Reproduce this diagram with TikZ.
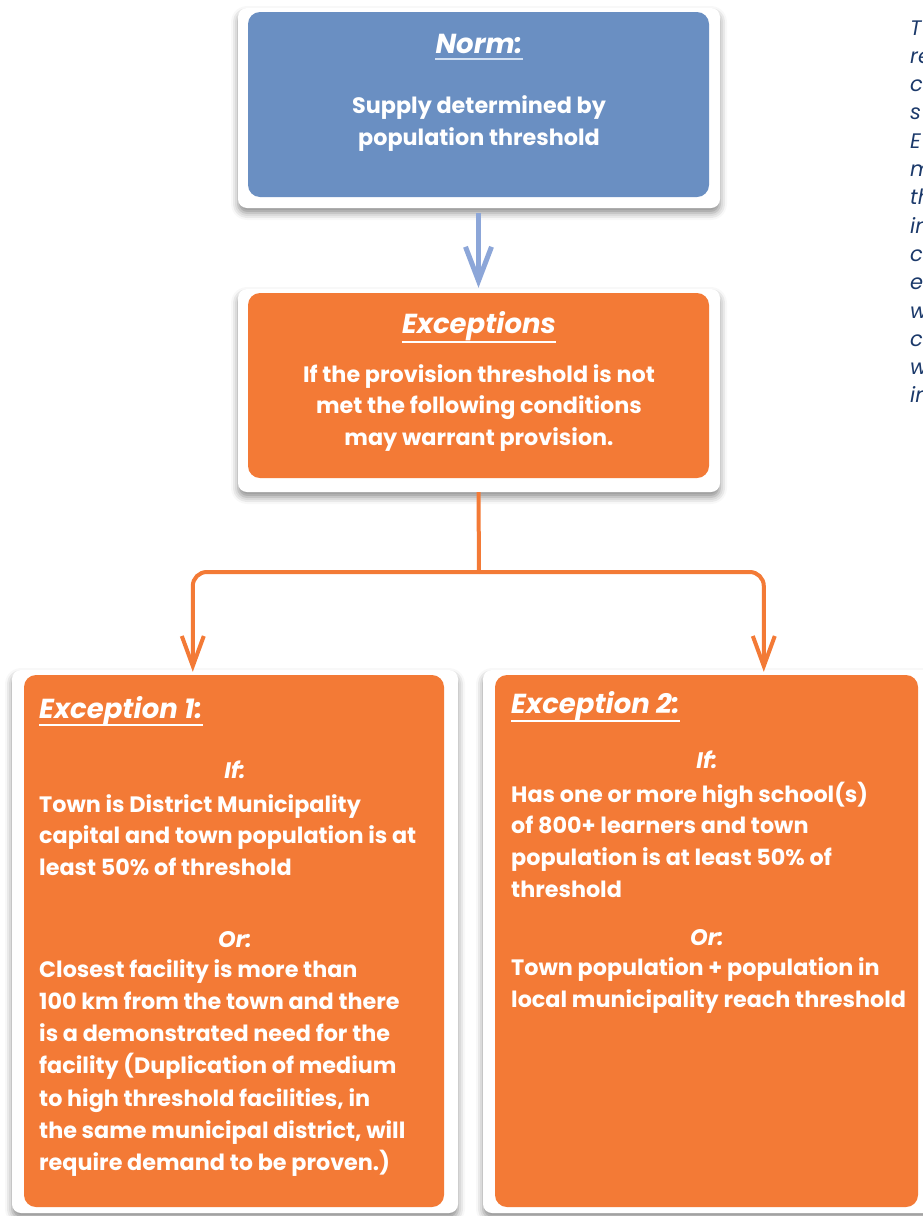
\documentclass[tikz,border=0pt]{standalone}
\usepackage{fontspec}
\setmainfont{Poppins}
\usetikzlibrary{arrows.meta,shadows.blur,calc}
\definecolor{normblue}{HTML}{6A8FC2}
\definecolor{excorange}{HTML}{F37A36}
\definecolor{arrowblue}{HTML}{8CA6D8}
\definecolor{navy}{HTML}{1B396A}
\definecolor{paleline}{HTML}{D2E0F2}
\tikzset{
  card/.style={fill=white, rounded corners=9pt,
    blur shadow={shadow xshift=0pt, shadow yshift=-5pt, shadow blur radius=7pt, shadow opacity=45}},
  box/.style={rounded corners=12pt, inner sep=0pt, draw=none},
  ttl/.style={font=\fontsize{27.5}{30}\selectfont\bfseries\itshape, text=white, inner sep=0pt},
  bodytxt/.style={font=\fontsize{22.3}{32}\selectfont\bfseries, text=white, inner sep=0pt},
  condtxt/.style={font=\fontsize{22.5}{32}\selectfont\bfseries\itshape, text=white, inner sep=0pt},
  sidetxt/.style={font=\fontsize{21}{28}\selectfont\itshape, text=navy, inner sep=0pt},
  uline/.style={line width=1.2pt},
  oline/.style={draw=excorange, line width=4pt},
  barb/.style={-{Straight Barb[length=30pt, width=22pt]}}
}
\begin{document}
\begin{tikzpicture}[x=1pt,y=-1pt]
\useasboundingbox (0,0) rectangle (922,1216);
% white cards with shadow
\fill[card] (238,8) rectangle (720,208);
\fill[card] (238,289) rectangle (720,492);
\fill[card] (12,670) rectangle (458,1213);
\fill[card] (483,670) rectangle (935,1213);
% boxes
\node[box, fill=normblue, minimum width=461pt, minimum height=185pt] (norm) at (478.5,104.5) {};
\node[box, fill=excorange, minimum width=461pt, minimum height=185pt] (exc) at (478.5,385.5) {};
\node[box, fill=excorange, minimum width=420pt, minimum height=532pt] (e1) at (234,941) {};
\node[box, fill=excorange, minimum width=423pt, minimum height=532pt] (e2) at (706.5,941) {};
% norm texts
\node[ttl, anchor=base] (normt) at (479,53) {Norm:};
\draw[uline, paleline] ([yshift=-6pt]normt.base west) -- ([yshift=-6pt]normt.base east);
\node[bodytxt, anchor=base] (norm1) at (479,113) {Supply determined by};
\node[bodytxt, anchor=base] (norm2) at (479,145) {population threshold};
% exceptions texts
\node[ttl, anchor=base] (exct) at (479,333) {Exceptions};
\draw[uline, white] ([yshift=-9pt]exct.base west) -- ([yshift=-9pt]exct.base east);
\foreach \t [count=\i from 0] in {If the provision threshold is not, met the following conditions, may warrant provision.}
  \node[bodytxt, anchor=base] (excl\i) at (479,382+31.5*\i) {\t};
% exception 1
\node[ttl, anchor=base west] (e1t) at (39,718) {Exception 1:};
\draw[uline, white] ([yshift=-7pt]e1t.base west) -- ([yshift=-7pt]e1t.base east);
\node[condtxt, anchor=base] (e1if) at (235,778) {If:};
\foreach \t [count=\i from 0] in {Town is District Municipality, capital and town population is at, least 50\% of threshold}
  \node[bodytxt, anchor=base west] (e1a\i) at (39,812+31.5*\i) {\t};
\node[condtxt, anchor=base] (e1or) at (235,947) {Or:};
\foreach \t [count=\i from 0] in {Closest facility is more than, 100 km from the town and there, is a demonstrated need for the, facility (Duplication of medium, {to high threshold facilities, in}, {the same municipal district, will}, require demand to be proven.)}
  \node[bodytxt, anchor=base west] (e1b\i) at (39,977+32.3*\i) {\t};
% exception 2
\node[ttl, anchor=base west] (e2t) at (511,713) {Exception 2:};
\draw[uline, white] ([yshift=-8pt]e2t.base west) -- ([yshift=-8pt]e2t.base east);
\node[condtxt, anchor=base] (e2if) at (707,768) {If:};
\foreach \t [count=\i from 0] in {Has one or more high school(s), of 800+ learners and town, population is at least 50\% of, threshold}
  \node[bodytxt, anchor=base west] (e2a\i) at (511,802+31.7*\i) {\t};
\node[condtxt, anchor=base] (e2or) at (707,945) {Or:};
\foreach \t [count=\i from 0] in {Town population + population in, local municipality reach threshold}
  \node[bodytxt, anchor=base west] (e2b\i) at (511,975+32*\i) {\t};
% connectors
\draw[arrowblue, line width=5pt, -{Straight Barb[length=34pt, width=26pt]}]
  ([yshift=-16pt]norm.south) -- ([yshift=5pt]exc.north);
\coordinate (split) at (479,572);
\draw[oline] ([yshift=-14pt]exc.south) -- (split);
\draw[oline, barb, rounded corners=14pt] (split) -| ([xshift=169pt,yshift=3pt]e1.north west);
\draw[oline, barb, rounded corners=14pt] (split) -| ([xshift=269pt,yshift=3pt]e2.north west);
% side text (cut off at right edge, as in the reference)
\foreach \t [count=\i from 0] in {T,re,c,s,E,m,th,in,c,e,w,c,w,in}
  \node[sidetxt, anchor=base west] (side\i) at (910,35+28.3*\i) {\t};
\end{tikzpicture}
\end{document}
